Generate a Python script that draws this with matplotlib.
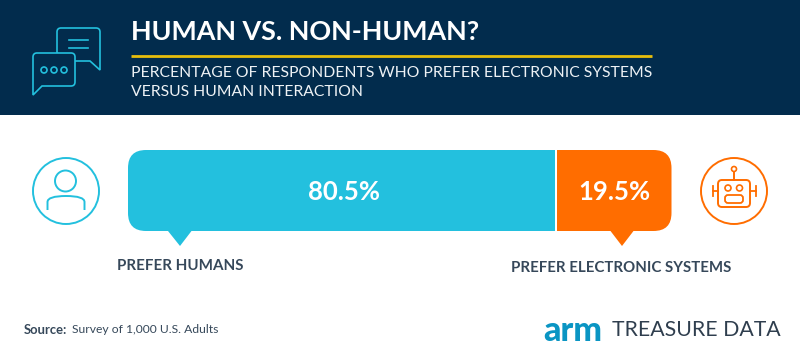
import matplotlib
matplotlib.use("Agg")
import matplotlib.pyplot as plt
from matplotlib.patches import Rectangle, FancyBboxPatch, Circle, Polygon, PathPatch
from matplotlib.path import Path

categories = ["PREFER HUMANS", "PREFER ELECTRONIC SYSTEMS"]
values = [80.5, 19.5]
title = "HUMAN VS. NON-HUMAN?"
subtitle = ["PERCENTAGE OF RESPONDENTS WHO PREFER ELECTRONIC SYSTEMS", "VERSUS HUMAN INTERACTION"]
source_label = "Source:"
source_text = "Survey of 1,000 U.S. Adults"

NAVY, CYAN, ORANGE, GOLD, INK = "#022C4D", "#23C0DE", "#FF6D00", "#E8BE0C", "#36485A"
plt.rcParams["font.family"] = ["Lato", "DejaVu Sans"]

fig = plt.figure(figsize=(8, 3.6), dpi=100, facecolor="white")
ov = fig.add_axes([0, 0, 1, 1])
ov.set_xlim(0, 800); ov.set_ylim(360, 0); ov.axis("off")

# Header
ov.add_patch(Rectangle((0, 0), 800, 115, fc=NAVY, ec="none"))
ov.plot([131, 652], [55.5, 55.5], color=GOLD, lw=2.0, solid_capstyle="butt")
ov.text(131, 32.5, title, color="white", fontsize=19.4, fontweight="bold", va="center", ha="left")
ov.text(131, 73, subtitle[0], color="#EEF2F5", fontsize=11.3, va="center", ha="left")
ov.text(131, 92, subtitle[1], color="#EEF2F5", fontsize=11.3, va="center", ha="left")

def rounded_path(points, r):
    verts, codes = [], []
    n = len(points)
    for i, p in enumerate(points):
        a, b = points[i - 1], points[(i + 1) % n]
        def toward(q):
            d = ((q[0]-p[0])**2 + (q[1]-p[1])**2) ** .5
            k = min(r[i], d / 2) / d
            return (p[0] + (q[0]-p[0])*k, p[1] + (q[1]-p[1])*k)
        s, e = toward(a), toward(b)
        verts += [s, p, e]
        codes += [Path.MOVETO if i == 0 else Path.LINETO, Path.CURVE3, Path.CURVE3]
    verts.append(verts[0]); codes.append(Path.CLOSEPOLY)
    return Path(verts, codes)

# Chat icon
back = rounded_path([(57,53),(57,28),(100,28),(100,70),(90,61),(75,61)], [0,4,4,0,0,0])
ov.add_patch(PathPatch(back, fc="none", ec=CYAN, lw=1.2))
front = rounded_path([(33,53),(75,53),(75,86),(42,86),(33,95)], [4,4,4,0,0])
ov.add_patch(PathPatch(front, fc=NAVY, ec=CYAN, lw=1.2, zorder=3))
for y in (40, 48):
    ov.plot([69, 88], [y, y], color=CYAN, lw=1.2)
for x in (44, 54, 64):
    ov.add_patch(Circle((x, 70), 3, fc="none", ec=CYAN, lw=1.2, zorder=4))

# Bars: one axes per segment, each spanning its own pixel extent
BAR_TOP, BAR_BOT = 150, 231
spans = [(128, 554.7), (557, 671.5)]
colors = [CYAN, ORANGE]
bar_axes = []
for val, (x0, x1), col in zip(values, spans, colors):
    ax = fig.add_axes([x0/800, 1-BAR_BOT/360, (x1-x0)/800, (BAR_BOT-BAR_TOP)/360])
    ax.set_xlim(0, val); ax.set_ylim(-0.5, 0.5); ax.axis("off")
    bar = ax.barh([0], [val], height=1, color=col)[0]
    bar_axes.append((ax, bar))

clip = FancyBboxPatch((128+18, BAR_TOP+18), 543.5-36, (BAR_BOT-BAR_TOP)-36,
                      boxstyle="round,pad=18,rounding_size=18",
                      transform=ov.transData, fc="none", ec="none")
ov.add_patch(clip)
for ax, bar in bar_axes:
    bar.set_clip_path(clip.get_path(), clip.get_transform())

for (ax, bar), val, dx in zip(bar_axes, values, (2.2, 0.0)):
    ax.annotate(f"{val}%", (val/2, -0.02), xytext=(dx, 0), textcoords="offset points",
                color="white", fontsize=18.5, fontweight="bold",
                ha="center", va="center")

ov.add_patch(Polygon([(168, 231), (180, 246), (191.5, 231)], fc=CYAN, ec="none"))
ov.add_patch(Polygon([(610.5, 231), (622, 246), (633.5, 231)], fc=ORANGE, ec="none"))

ov.text(180.5, 265.5, categories[0], color=INK, fontsize=10.9, fontweight="bold", ha="center", va="center")
ov.text(621, 268, categories[1], color=INK, fontsize=10.85, fontweight="bold", ha="center", va="center")

# Person icon
ov.add_patch(Circle((66, 191), 33, fc="none", ec=CYAN, lw=1.4))
ov.add_patch(Circle((65.5, 181), 10.5, fc="none", ec=CYAN, lw=1.4))
sh = Path([(47.5,210),(47.5,202),(47.5,196),(66,196),(84.5,196),(84.5,202),(84.5,210)],
          [Path.MOVETO,Path.LINETO,Path.CURVE3,Path.CURVE3,Path.CURVE3,Path.CURVE3,Path.LINETO])
ov.add_patch(PathPatch(sh, fc="none", ec=CYAN, lw=1.4))

# Robot icon
ov.add_patch(Circle((734, 191), 33, fc="none", ec=ORANGE, lw=1.4))
ov.add_patch(FancyBboxPatch((722, 184), 24, 19, boxstyle="round,pad=4,rounding_size=4", fc="none", ec=ORANGE, lw=1.4))
ov.plot([734, 734], [172, 180], color=ORANGE, lw=1.4)
ov.add_patch(Circle((734, 169), 2.5, fc="none", ec=ORANGE, lw=1.2))
for x in (728, 739.5):
    ov.add_patch(Circle((x, 188), 3, fc="none", ec=ORANGE, lw=1.2))
ov.add_patch(FancyBboxPatch((728, 198), 12, 2, boxstyle="round,pad=3,rounding_size=3", fc="none", ec=ORANGE, lw=1.3))
for x0, x1 in ((718, 713), (750, 756)):
    ov.plot([x0, x1], [191, 191], color=ORANGE, lw=1.3)
    ov.plot([x1, x1], [186, 196], color=ORANGE, lw=1.3)

# Footer
ov.text(24, 329.5, source_label, color=INK, fontsize=9.4, fontweight="bold", va="center", ha="left")
ov.text(72, 329.5, source_text, color=INK, fontsize=8.7, va="center", ha="left")
ov.text(543, 331, "arm", color="#0A95C3", fontsize=24.5, fontweight="black", va="center", ha="left")
ov.text(612, 329.5, "TREASURE DATA", color="#2F3E4E", fontsize=15.3, va="center", ha="left")

fig.savefig("out.png", dpi=100)
